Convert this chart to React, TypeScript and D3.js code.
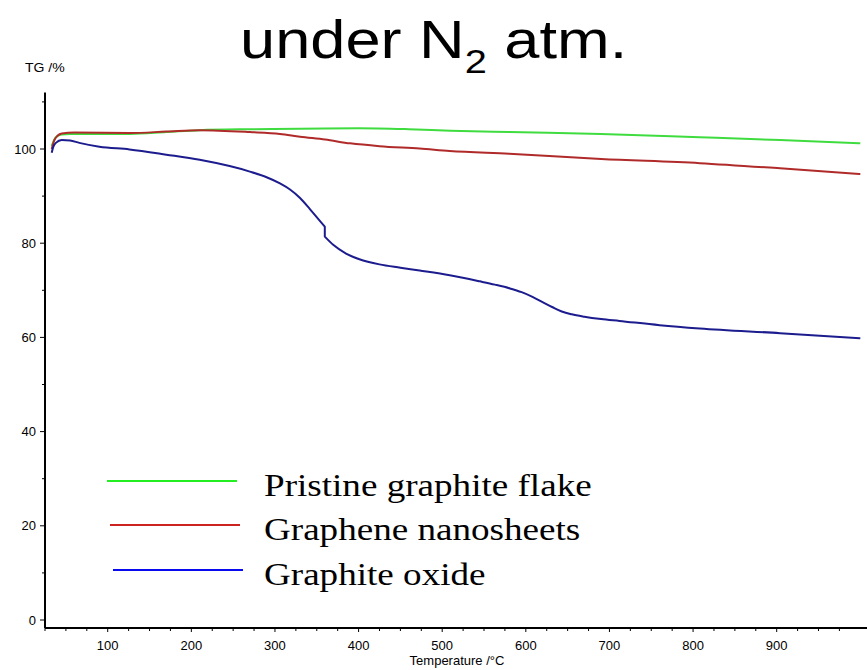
import React from "react";
import * as d3 from "d3";

// Thermogravimetric curves (temperature in °C, mass in %)
const pristineT = [33, 36, 40, 45, 55, 80, 126, 170, 210, 270, 330, 400, 460, 510, 580, 690, 808, 904, 1000];
const pristineTG = [100.6, 102.0, 102.8, 103.1, 103.2, 103.2, 103.2, 103.6, 104.0, 104.2, 104.3, 104.4, 104.2, 103.9, 103.6, 103.2, 102.5, 101.9, 101.2];

const grapheneT = [33, 36, 40, 45, 60, 126, 170, 210, 270, 306, 330, 360, 390, 425, 473, 509, 580, 690, 808, 904, 1000];
const grapheneTG = [100.0, 101.8, 102.8, 103.3, 103.5, 103.4, 103.7, 104.0, 103.6, 103.2, 102.6, 102.0, 101.2, 100.6, 100.1, 99.6, 99.0, 97.9, 97.0, 95.9, 94.7];

// graphite oxide shows an abrupt mass step at ~360 °C
const oxideT = [33, 35, 38, 45, 55, 66, 90, 126, 170, 210, 270, 290, 306, 318, 330, 342, 359.6, 359.6, 370, 385, 401, 425, 450, 473, 509, 545, 563, 581, 595, 608, 620, 632, 643, 655, 670, 690, 712, 760, 808, 904, 1000];
const oxideTG = [99.2, 100.5, 101.3, 101.9, 101.8, 101.3, 100.5, 99.9, 98.8, 97.7, 95.2, 94.0, 92.7, 91.4, 89.6, 87.2, 83.5, 81.4, 79.6, 77.8, 76.6, 75.5, 74.8, 74.2, 73.2, 71.9, 71.2, 70.4, 69.6, 68.6, 67.5, 66.4, 65.5, 64.9, 64.4, 63.9, 63.5, 62.6, 61.9, 60.9, 59.8];

const seriesNames = ["Pristine graphite flake", "Graphene nanosheets", "Graphite oxide"];
const lineColors = ["#3fdc3f", "#b02a2a", "#1c1c8e"];
const legendColors = ["#22ee22", "#cc2222", "#0a0aee"];

const xMajorTicks = [100, 200, 300, 400, 500, 600, 700, 800, 900];
const yMajorTicks = [0, 20, 40, 60, 80, 100];

const W = 867;
const H = 670;

type Pt = [number, number];

export default function App() {
  const x = d3.scaleLinear().domain([25, 1008]).range([45, 867]);
  const y = d3.scaleLinear().domain([0, 100]).range([620, 149]);
  const axisBottom = 628;
  const axisTop = y(112);

  const xMinor = d3.range(25, 1008, 25).filter((t) => t % 100 !== 0);
  const yMinor = [10, 30, 50, 70, 90, 110];

  const zip = (ts: number[], vs: number[]) => ts.map((t, i) => [t, vs[i]] as Pt);
  const series = [zip(pristineT, pristineTG), zip(grapheneT, grapheneTG), zip(oxideT, oxideTG)];

  const line = d3
    .line<Pt>()
    .x((d) => x(d[0]))
    .y((d) => y(d[1]))
    .curve(d3.curveMonotoneX);

  // split a series wherever the temperature repeats (vertical step), smooth each run,
  // and join the runs with straight vertical segments
  const pathFor = (pts: Pt[]) => {
    const runs: Pt[][] = [[pts[0]]];
    for (let i = 1; i < pts.length; i++) {
      if (pts[i][0] === pts[i - 1][0]) runs.push([pts[i]]);
      else runs[runs.length - 1].push(pts[i]);
    }
    return runs
      .map((r, k) => {
        const d = line(r) ?? "";
        return k === 0 ? d : "L" + d.slice(1);
      })
      .join("");
  };

  const legendRows = [
    { x1: 107, x2: 237, ly: 481, ty: 496 },
    { x1: 110, x2: 240, ly: 525, ty: 540 },
    { x1: 113, x2: 243, ly: 570, ty: 585 },
  ];

  const sans = "'Liberation Sans', Arial, sans-serif";
  const serif = "'Liberation Serif', 'Times New Roman', serif";

  return (
    <svg
      width={W}
      height={H}
      style={{ position: "absolute", left: 0, top: 0, background: "#fff" }}
    >
      <rect x={0} y={0} width={W} height={H} fill="#fff" />

      {/* title */}
      <g transform="translate(240,58) scale(1.17,1)">
        <text x={0} y={0} fontFamily={sans} fontSize={54} fill="#000">
          under N
          <tspan fontSize={34} dy={15}>2</tspan>
          <tspan dy={-15}> atm.</tspan>
        </text>
      </g>

      {/* y-axis unit */}
      <g transform="translate(25,72) scale(1.17,1)">
        <text fontFamily={sans} fontSize={12} fill="#000">TG /%</text>
      </g>

      {/* axes */}
      <line x1={45} x2={45} y1={axisTop} y2={axisBottom} stroke="#000" strokeWidth={2} />
      <line x1={45} x2={867} y1={axisBottom} y2={axisBottom} stroke="#000" strokeWidth={2} />

      {yMajorTicks.map((v) => (
        <g key={"ym" + v}>
          <line x1={40} x2={45} y1={y(v)} y2={y(v)} stroke="#000" strokeWidth={1} />
          <text
            x={36}
            y={y(v)}
            dy="0.35em"
            textAnchor="end"
            fontFamily={sans}
            fontSize={13}
            fill="#000"
          >
            {v}
          </text>
        </g>
      ))}
      {yMinor.map((v) => (
        <line key={"yn" + v} x1={42} x2={45} y1={y(v)} y2={y(v)} stroke="#000" strokeWidth={1} />
      ))}

      {xMajorTicks.map((t) => (
        <g key={"xm" + t}>
          <line x1={x(t)} x2={x(t)} y1={axisBottom} y2={axisBottom + 4} stroke="#000" strokeWidth={1} />
          <text
            x={x(t)}
            y={650}
            textAnchor="middle"
            fontFamily={sans}
            fontSize={13}
            fill="#000"
          >
            {t}
          </text>
        </g>
      ))}
      {xMinor.map((t) => (
        <line key={"xn" + t} x1={x(t)} x2={x(t)} y1={axisBottom} y2={axisBottom + 3} stroke="#000" strokeWidth={1} />
      ))}

      <text x={457} y={665} textAnchor="middle" fontFamily={sans} fontSize={13} fill="#000">
        Temperature /°C
      </text>

      {/* curves */}
      {series.map((s, i) => (
        <path
          key={"s" + i}
          d={pathFor(s)}
          fill="none"
          stroke={lineColors[i]}
          strokeWidth={2}
          strokeLinejoin="round"
        />
      ))}

      {/* legend */}
      {legendRows.map((r, i) => (
        <g key={"lg" + i}>
          <line x1={r.x1} x2={r.x2} y1={r.ly} y2={r.ly} stroke={legendColors[i]} strokeWidth={2} />
          <g transform={`translate(264,${r.ty}) scale(1.16,1)`}>
            <text fontFamily={serif} fontSize={32} fill="#000">
              {seriesNames[i]}
            </text>
          </g>
        </g>
      ))}
    </svg>
  );
}
